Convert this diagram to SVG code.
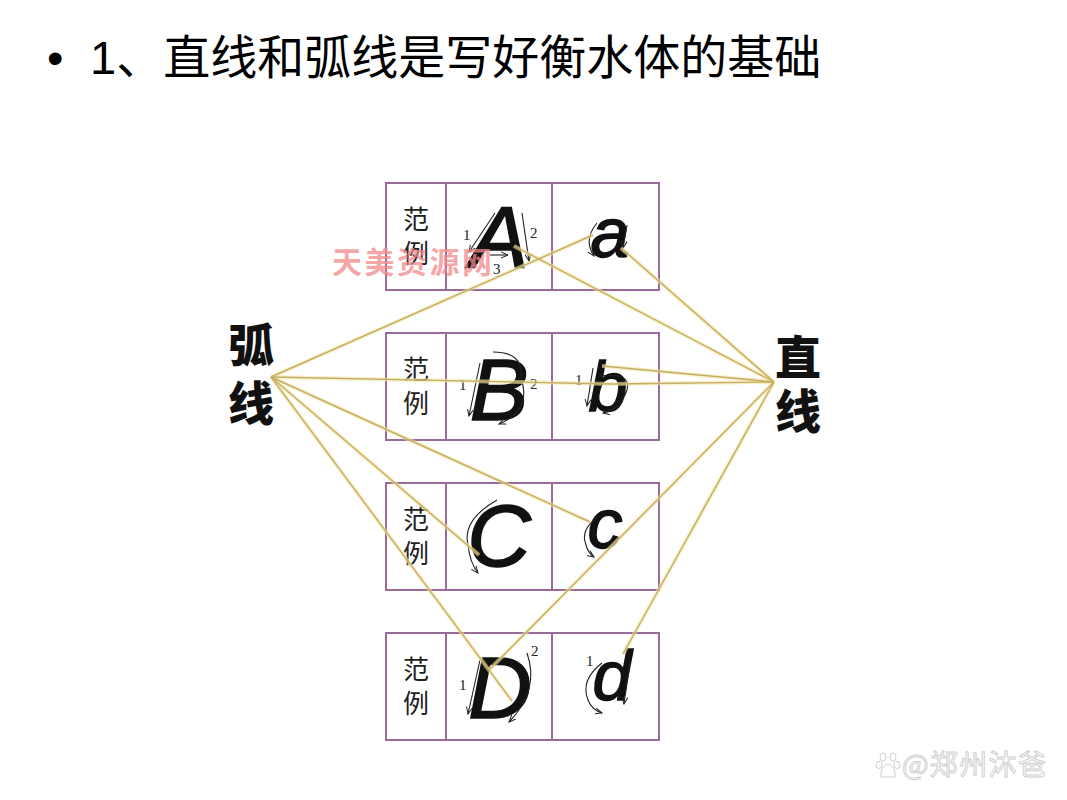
<svg xmlns="http://www.w3.org/2000/svg" width="1067" height="800" viewBox="0 0 1067 800">
<defs>
<style>
.title{font-family:"Liberation Sans","Noto Sans CJK SC",sans-serif;font-size:47px;fill:#000}
.side{font-family:"Noto Sans CJK SC",sans-serif;font-size:46px;font-weight:900;fill:#111}
.cell{fill:#fff;stroke:#9a6a98;stroke-width:2}
.fl{font-family:"Noto Sans CJK SC",serif;font-size:26px;font-weight:400;fill:#222;text-anchor:middle}
.cap{font-family:"Liberation Sans",sans-serif;font-style:italic;font-size:88px;fill:#111;stroke:#111;stroke-width:1.6;text-anchor:middle}
.low{font-family:"Liberation Sans",sans-serif;font-style:italic;font-size:70px;fill:#111;stroke:#111;stroke-width:1.4;text-anchor:middle}
.num{font-family:"Liberation Serif",serif;font-size:15px;fill:#222}
.stk{fill:none;stroke:#222;stroke-width:1.1;marker-end:url(#ah)}
.glow{fill:none;stroke:#f3e6a2;stroke-width:4;stroke-opacity:0.6}
.core{fill:none;stroke:#c5ad68;stroke-width:1.4}
.wm{font-family:"Noto Sans CJK SC",sans-serif;font-size:30px;font-weight:700;fill:#f28a8a;fill-opacity:0.75}
.wm2{font-family:"Noto Sans CJK SC",sans-serif;font-size:28px;fill:#fff;stroke:#cfcfcf;stroke-width:1}
</style>
<marker id="ah" markerWidth="8" markerHeight="8" refX="7" refY="4" orient="auto" markerUnits="userSpaceOnUse">
<path d="M0,1 L7,4 L0,7" fill="none" stroke="#222" stroke-width="1"/>
</marker>
</defs>
<rect width="1067" height="800" fill="#fff"/>

<g id="title">
<text class="title" x="47" y="74">•</text>
<text class="title" x="90" y="74">1、直线和弧线是写好衡水体的基础</text>
</g>

<g id="row-A">
<rect class="cell" x="386" y="183" width="60" height="107"/>
<rect class="cell" x="446" y="183" width="106" height="107"/>
<rect class="cell" x="552" y="183" width="107" height="107"/>
<text class="fl" x="416" y="229">范</text>
<text class="fl" x="416" y="263">例</text>
<text class="cap" x="499" y="268">A</text>
<text class="low" x="610" y="257">a</text>
<path class="stk" d="M495,213 L469,252"/>
<text class="num" x="463" y="240">1</text>
<path class="stk" d="M522,213 L529,261"/>
<text class="num" x="530" y="238">2</text>
<path class="stk" d="M490,255 L508,255"/>
<text class="num" x="493" y="274">3</text>
<path class="stk" d="M597,223 Q583,240 594,256"/>
<path class="stk" d="M627,225 L623,248"/>
</g>

<g id="row-B">
<rect class="cell" x="386" y="333" width="60" height="107"/>
<rect class="cell" x="446" y="333" width="106" height="107"/>
<rect class="cell" x="552" y="333" width="107" height="107"/>
<text class="fl" x="416" y="379">范</text>
<text class="fl" x="416" y="413">例</text>
<text class="cap" x="499" y="420">B</text>
<text class="low" x="608" y="411">b</text>
<path class="stk" d="M480,363 L469,416"/>
<text class="num" x="459" y="390">1</text>
<path class="stk" d="M493,352 Q524,352 521,378 Q532,410 499,424"/>
<text class="num" x="530" y="389">2</text>
<path class="stk" d="M593,368 L587,406"/>
<text class="num" x="575" y="385">1</text>
<path class="stk" d="M599,376 Q632,372 627,390 Q620,410 603,413"/>
</g>

<g id="row-C">
<rect class="cell" x="386" y="483" width="60" height="107"/>
<rect class="cell" x="446" y="483" width="106" height="107"/>
<rect class="cell" x="552" y="483" width="107" height="107"/>
<text class="fl" x="416" y="529">范</text>
<text class="fl" x="416" y="563">例</text>
<text class="cap" x="499" y="566">C</text>
<text class="low" x="605" y="548">c</text>
<path class="stk" d="M497,500 Q462,520 468,545 Q470,563 478,573"/>
<path class="stk" d="M597,518 Q580,530 586,545 Q588,553 594,557"/>
</g>

<g id="row-D">
<rect class="cell" x="386" y="633" width="60" height="107"/>
<rect class="cell" x="446" y="633" width="106" height="107"/>
<rect class="cell" x="552" y="633" width="107" height="107"/>
<text class="fl" x="416" y="679">范</text>
<text class="fl" x="416" y="713">例</text>
<text class="cap" x="500" y="718">D</text>
<text class="low" x="612" y="700">d</text>
<path class="stk" d="M480,660 L468,714"/>
<text class="num" x="459" y="690">1</text>
<path class="stk" d="M527,653 Q540,690 509,722"/>
<text class="num" x="531" y="656">2</text>
<path class="stk" d="M602,663 Q580,680 588,700 Q592,710 602,713"/>
<text class="num" x="586" y="666">1</text>
<path class="stk" d="M630,662 L624,704"/>
</g>

<g id="label-arc">
<text class="side" x="228" y="362">弧</text>
<text class="side" x="228" y="420">线</text>
</g>
<g id="label-line">
<text class="side" x="775" y="374">直</text>
<text class="side" x="775" y="428">线</text>
</g>

<g id="connectors">
<g class="glow">
<path d="M271,377 L593,235"/>
<path d="M271,377 L612,384"/>
<path d="M271,377 L590,522"/>
<path d="M271,377 L479,555"/>
<path d="M271,377 L512,701"/>
<path d="M774,382 L514,246"/>
<path d="M774,382 L621,248"/>
<path d="M774,382 L602,366"/>
<path d="M774,382 L612,384"/>
<path d="M774,382 L489,670"/>
<path d="M774,382 L623,654"/>
</g>
<g class="core">
<path d="M271,377 L593,235"/>
<path d="M271,377 L612,384"/>
<path d="M271,377 L590,522"/>
<path d="M271,377 L479,555"/>
<path d="M271,377 L512,701"/>
<path d="M774,382 L514,246"/>
<path d="M774,382 L621,248"/>
<path d="M774,382 L602,366"/>
<path d="M774,382 L612,384"/>
<path d="M774,382 L489,670"/>
<path d="M774,382 L623,654"/>
</g>
</g>

<g id="watermark">
<text class="wm" x="332" y="273" textLength="160">天美资源网</text>
<g fill="#fff" stroke="#cfcfcf" stroke-width="1">
<ellipse cx="883" cy="757" rx="3" ry="4"/>
<ellipse cx="893" cy="757" rx="3" ry="4"/>
<ellipse cx="879" cy="765" rx="3" ry="3.5"/>
<ellipse cx="897" cy="765" rx="3" ry="3.5"/>
<path d="M881,777 Q880,766 888,764 Q896,766 895,777 Z"/>
</g>
<text class="wm2" x="902" y="775" textLength="144">@郑州沐爸</text>
</g>
</svg>
